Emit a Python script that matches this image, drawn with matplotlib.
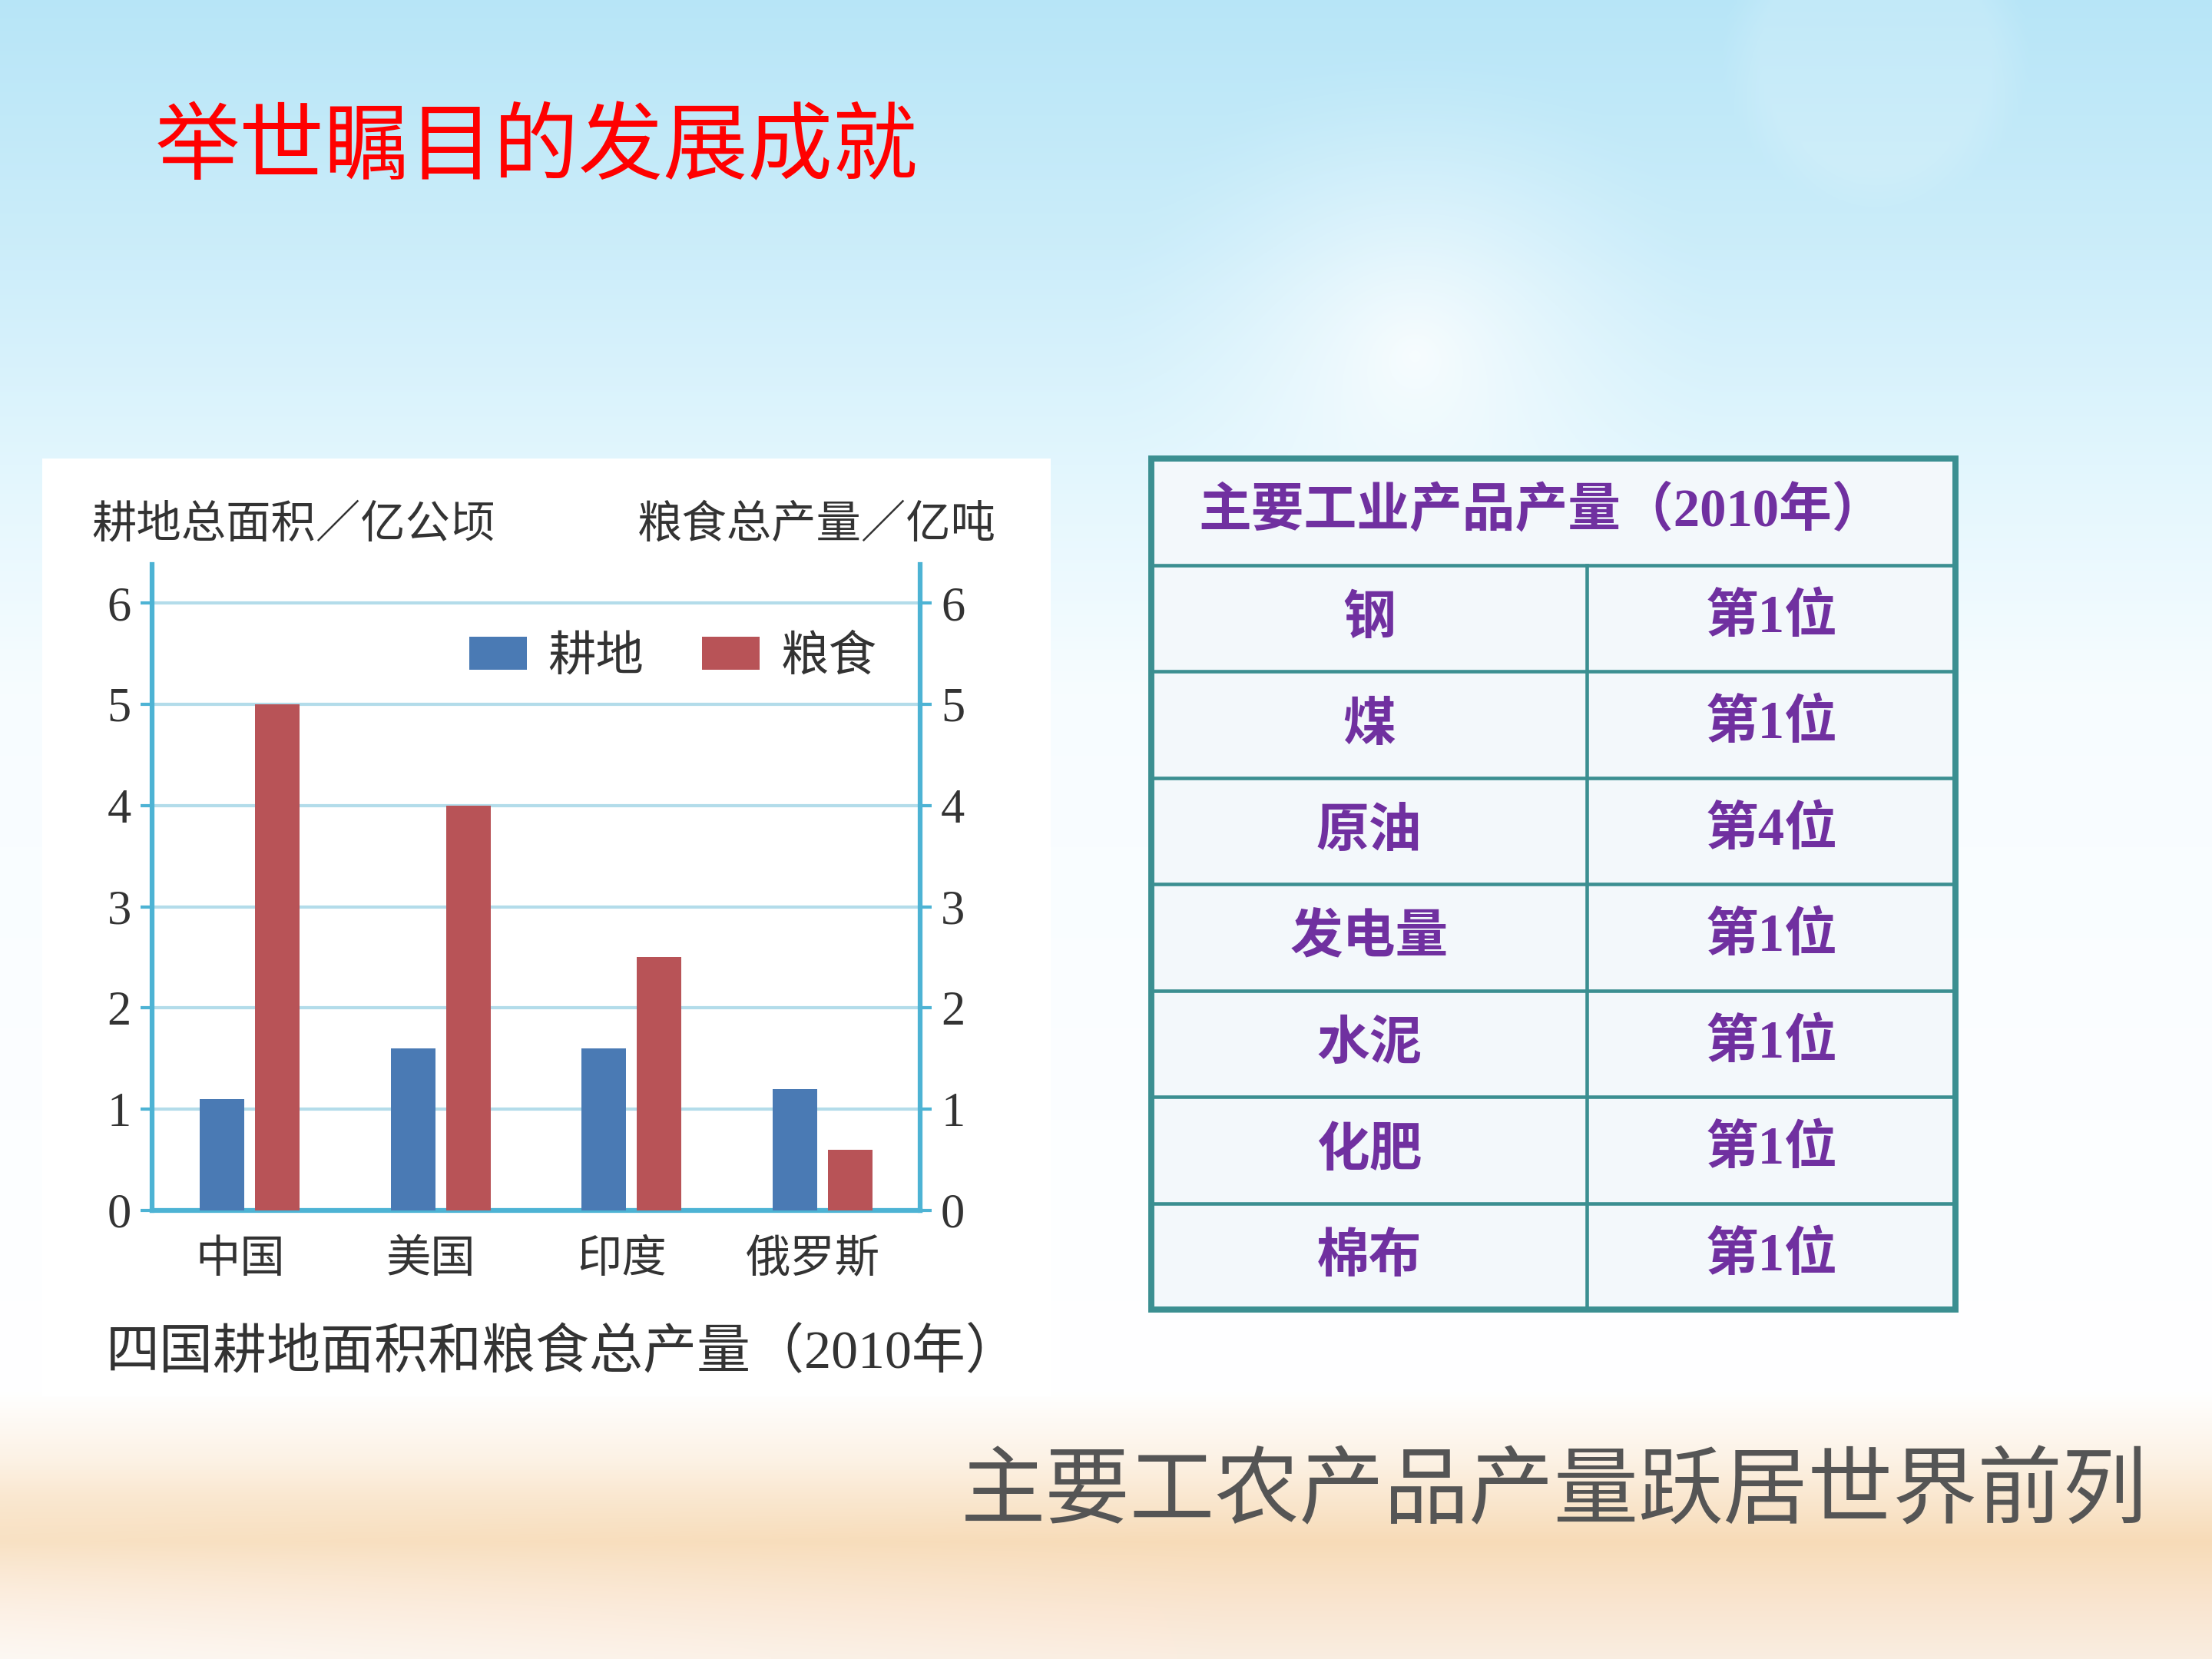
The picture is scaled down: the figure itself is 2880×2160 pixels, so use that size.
import numpy as np
import matplotlib.pyplot as plt
from matplotlib.patches import Rectangle

plt.rcParams['font.family'] = ['Noto Sans CJK SC', 'DejaVu Sans']

# chart data (2010)
countries = ['中国', '美国', '印度', '俄罗斯']
arable = [1.1, 1.6, 1.6, 1.2]   # 耕地总面积/亿公顷
grain = [5.0, 4.0, 2.5, 0.6]    # 粮食总产量/亿吨
y_ticks = [0, 1, 2, 3, 4, 5, 6]

# table data
products = ['钢', '煤', '原油', '发电量', '水泥', '化肥', '棉布']
ranks = ['第1位', '第1位', '第4位', '第1位', '第1位', '第1位', '第1位']

W, H = 2880, 2160


def fx(x):
    return x / W


def fy(y):
    return 1 - y / H


fig = plt.figure(figsize=(9.6, 7.2), dpi=300)

# background: sky at the top, sand at the bottom
bg = fig.add_axes([0, 0, 1, 1])
bg.set_axis_off()
h, w = 432, 576
t = np.linspace(0, 1, h)
stops = [0.0, 0.15, 0.30, 0.42, 0.84, 0.88, 0.93, 0.97, 1.0]
r = [0.72, 0.80, 0.90, 0.97, 1.0, 0.99, 0.97, 0.98, 0.98]
g = [0.90, 0.93, 0.97, 0.99, 1.0, 0.95, 0.86, 0.90, 0.93]
b = [0.97, 0.98, 0.995, 1.0, 1.0, 0.90, 0.72, 0.82, 0.88]
col = np.stack([np.interp(t, stops, c) for c in (r, g, b)], axis=1)
img = np.repeat(col[:, None, :], w, axis=1)
yy, xx = np.mgrid[0:h, 0:w] / 2.0
# sun glow
d = np.hypot(xx - 184, yy - 46) / 40
glow = np.clip(1 - d, 0, 1)[..., None] ** 1.5
img = img * (1 - 0.8 * glow) + 0.8 * glow
# faint bubble top right
d2 = np.hypot(xx - 244, yy - 7) / 20
bub = np.clip((1 - d2) * 4, 0, 1)[..., None] * 0.15
img = img * (1 - bub) + bub
# whiter sand on the left
sand = (np.clip((yy / 216 - 0.9) / 0.1, 0, 1) * np.clip(1 - xx / (0.55 * 288), 0, 1))[..., None] * 0.6
img = img * (1 - sand) + sand
bg.imshow(np.clip(img, 0, 1), extent=[0, 1, 0, 1], aspect='auto', interpolation='bilinear')
bg.set_xlim(0, 1)
bg.set_ylim(0, 1)

# white panel behind the chart
bg.add_patch(Rectangle((fx(55), fy(1818)), (1368 - 55) / W, (1818 - 597) / H,
                       facecolor='white', edgecolor='none', zorder=2))

# title
fig.text(fx(202), fy(193), '举世瞩目的发展成就', color='#ff0000', fontsize=26.5,
         ha='left', va='center')

spine_c = '#4db3d4'
grid_c = '#b3dcea'
text_c = '#333333'
num_font = ['Liberation Serif', 'Noto Sans CJK SC']

ax = fig.add_axes([fx(198), fy(1576), (1198 - 198) / W, (1576 - 735) / H])
ax.set_facecolor('none')
x = np.arange(len(countries))
bw = 0.233
ax.bar(x - 0.145, arable, bw, color='#4a7ab4', label='耕地', zorder=3)
ax.bar(x + 0.145, grain, bw, color='#b85357', label='粮食', zorder=3)
ax.set_xlim(-0.51, 3.51)
ax.set_ylim(0, 6.38)
ax.set_yticks(y_ticks)
ax.set_yticklabels([str(v) for v in y_ticks], family=num_font, fontsize=15, color=text_c)
for v in y_ticks[1:]:
    ax.axhline(v, color=grid_c, lw=1.0, zorder=1)
ax.set_xticks(x - 0.05)
ax.set_xticklabels(countries, fontsize=14, color=text_c)
ax.tick_params(axis='x', length=0, pad=8)
ax.tick_params(axis='y', direction='out', length=3.5, width=1, color=spine_c, pad=3)
for s in ['left', 'bottom']:
    ax.spines[s].set_color(spine_c)
    ax.spines[s].set_linewidth(1.5)
ax.spines['top'].set_visible(False)
ax.spines['right'].set_visible(False)

ax2 = ax.twinx()
ax2.set_ylim(0, 6.38)
ax2.set_yticks(y_ticks)
ax2.set_yticklabels([str(v) for v in y_ticks], family=num_font, fontsize=15, color=text_c)
ax2.tick_params(axis='y', direction='out', length=3.5, width=1, color=spine_c, pad=3)
for s in ['left', 'top', 'bottom']:
    ax2.spines[s].set_visible(False)
ax2.spines['right'].set_color(spine_c)
ax2.spines['right'].set_linewidth(1.5)

ax.legend(loc='center right', bbox_to_anchor=(1.0, 0.858), ncol=2, frameon=False,
          fontsize=15, handlelength=1.2, handleheight=0.7, handletextpad=0.45,
          columnspacing=1.2, labelcolor=text_c)

fig.text(fx(119), fy(683), '耕地总面积／亿公顷', fontsize=14, color=text_c, ha='left', va='center')
fig.text(fx(1297), fy(683), '粮食总产量／亿吨', fontsize=14, color=text_c, ha='right', va='center')
fig.text(fx(138), fy(1763), '四国耕地面积和粮食总产量（2010年）', fontsize=16.8,
         color=text_c, ha='left', va='center', family=num_font)

# table of industrial products
purple = '#7030a0'
teal = '#3b8f91'
at = fig.add_axes([fx(1499), fy(1705), (2546 - 1499) / W, (1705 - 597) / H])
at.set_axis_off()
at.set_xlim(0, 1)
at.set_ylim(len(products) + 1, 0)
at.add_patch(Rectangle((0, 0), 1, len(products) + 1, facecolor='#f3f8fb', edgecolor='none'))
split = 0.542
for i in range(1, len(products) + 1):
    at.plot([0, 1], [i, i], color=teal, lw=1.1)
at.plot([split, split], [1, len(products) + 1], color=teal, lw=1.1)
at.add_patch(Rectangle((0, 0), 1, len(products) + 1, facecolor='none', edgecolor=teal,
                       lw=1.9, clip_on=False))
at.text(0.485, 0.5, '主要工业产品产量（2010年）', color=purple, fontsize=16.5,
        fontweight='bold', ha='center', va='center', family=num_font)
for i, (p, rk) in enumerate(zip(products, ranks)):
    at.text(split / 2, i + 1.5, p, color=purple, fontsize=16.5, fontweight='bold',
            ha='center', va='center')
    at.text((split + 1) / 2, i + 1.5, rk, color=purple, fontsize=16.5, fontweight='bold',
            ha='center', va='center', family=num_font)

fig.text(fx(2796), fy(1943), '主要工农产品产量跃居世界前列', color='#555555',
         fontsize=26.5, ha='right', va='center')

fig.savefig('out.png', dpi=300)
